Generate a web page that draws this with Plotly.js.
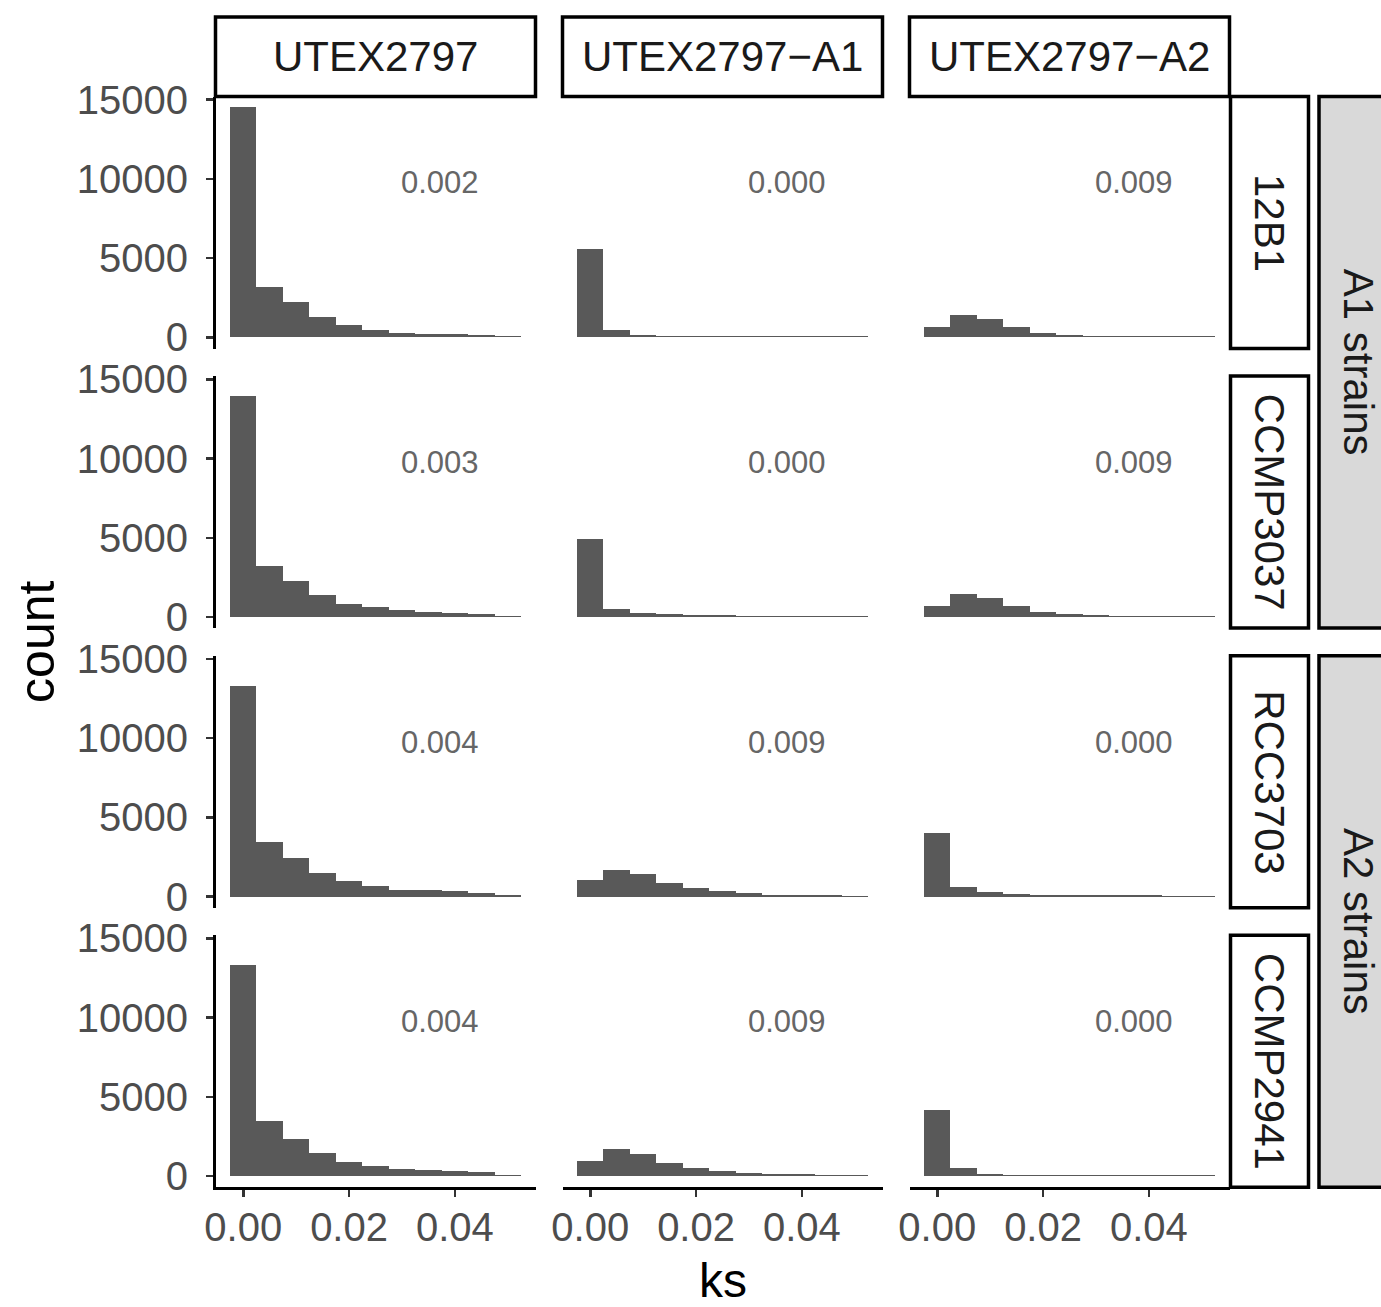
<!DOCTYPE html>
<html>
<head>
<meta charset="utf-8">
<script src="https://cdn.plot.ly/plotly-3.0.1.min.js"></script>
<style>
  html, body { margin: 0; padding: 0; background: #ffffff; }
  #chart { width: 1381px; height: 1307px; }
</style>
</head>
<body>
<div id="chart"></div>
<script>
// ---------- data ----------
const ksBins = [0, 0.005, 0.010, 0.015, 0.020, 0.025, 0.030, 0.035, 0.040, 0.045, 0.050];

const rowStrains = ['12B1', 'CCMP3037', 'RCC3703', 'CCMP2941'];
const colRefs = ['UTEX2797', 'UTEX2797\u2212A1', 'UTEX2797\u2212A2'];
const groupLabels = ['A1 strains', 'A2 strains'];

// counts per panel (row strain x column reference)
const count_12B1_UTEX2797    = [14550, 3200, 2260, 1300, 800, 490, 270, 210, 200, 150, 80];
const count_12B1_A1          = [5600, 480, 170, 120, 90, 80, 80, 75, 75, 70, 70];
const count_12B1_A2          = [660, 1420, 1160, 660, 275, 150, 90, 90, 90, 75, 75];

const count_CCMP3037_UTEX2797 = [13950, 3250, 2300, 1410, 845, 650, 420, 340, 250, 190, 80];
const count_CCMP3037_A1       = [4950, 530, 270, 190, 130, 100, 90, 85, 80, 75, 70];
const count_CCMP3037_A2       = [720, 1480, 1220, 720, 340, 210, 100, 85, 85, 75, 75];

const count_RCC3703_UTEX2797 = [13270, 3460, 2460, 1460, 960, 650, 420, 420, 330, 250, 85];
const count_RCC3703_A1       = [1040, 1710, 1400, 830, 520, 330, 210, 125, 125, 80, 70];
const count_RCC3703_A2       = [4020, 580, 270, 150, 90, 85, 80, 75, 75, 70, 70];

const count_CCMP2941_UTEX2797 = [13300, 3460, 2330, 1460, 900, 650, 460, 400, 330, 270, 85];
const count_CCMP2941_A1       = [980, 1710, 1400, 830, 520, 330, 210, 145, 145, 85, 70];
const count_CCMP2941_A2       = [4150, 520, 150, 100, 100, 80, 75, 75, 70, 70, 70];

const ksLabels = [
  ['0.002', '0.000', '0.009'],
  ['0.003', '0.000', '0.009'],
  ['0.004', '0.009', '0.000'],
  ['0.004', '0.009', '0.000']
];

const yTickVals = [0, 5000, 10000, 15000];
const yTickText = ['0', '5000', '10000', '15000'];
const xTickVals = [0, 0.02, 0.04];
const xTickText = ['0.00', '0.02', '0.04'];

const panelCounts = [
  [count_12B1_UTEX2797, count_12B1_A1, count_12B1_A2],
  [count_CCMP3037_UTEX2797, count_CCMP3037_A1, count_CCMP3037_A2],
  [count_RCC3703_UTEX2797, count_RCC3703_A1, count_RCC3703_A2],
  [count_CCMP2941_UTEX2797, count_CCMP2941_A1, count_CCMP2941_A2]
];

// ---------- layout geometry (pixels) ----------
const W = 1381, H = 1307;
const FONT = '"Liberation Sans", Arial, Helvetica, sans-serif';
const colX0 = [215.5, 562.5, 909.5];
const panelW = 320;
const rowY0 = [96.5, 376.1, 655.7, 935.3];
const panelH = 252;
const stripTop = [17, 96.5];
const rightStripX = [1230.5, 1308.5];
const outerStripX = [1319, 1398];

const px = v => v / W;
const py = v => 1 - v / H;

const data = [];
const layout = {
  width: W, height: H,
  margin: {l: 0, r: 0, t: 0, b: 0},
  paper_bgcolor: '#ffffff',
  plot_bgcolor: '#ffffff',
  showlegend: false,
  bargap: 0,
  font: {family: FONT, color: '#000000'},
  shapes: [],
  annotations: []
};

for (let r = 0; r < 4; r++) {
  for (let c = 0; c < 3; c++) {
    const i = r * 3 + c + 1;
    const xa = 'xaxis' + (i === 1 ? '' : i);
    const ya = 'yaxis' + (i === 1 ? '' : i);
    const xref = 'x' + (i === 1 ? '' : i);
    const yref = 'y' + (i === 1 ? '' : i);
    data.push({
      type: 'bar',
      x: ksBins,
      y: panelCounts[r][c],
      width: 0.005,
      xaxis: xref, yaxis: yref,
      marker: {color: '#595959', line: {width: 0}},
      hoverinfo: 'x+y'
    });
    const bottom = (r === 3), left = (c === 0);
    layout[xa] = {
      domain: [px(colX0[c]), px(colX0[c] + panelW)],
      anchor: yref,
      range: [-0.00525, 0.05525],
      showgrid: false, zeroline: false,
      showline: bottom, linecolor: '#000000', linewidth: 2.5,
      ticks: bottom ? 'outside' : '', ticklen: 7, tickwidth: 2.5, tickcolor: '#333333',
      showticklabels: bottom,
      ticklabelstandoff: -4,
      tickvals: xTickVals, ticktext: xTickText,
      tickfont: {family: FONT, size: 40, color: '#4d4d4d'},
      fixedrange: true
    };
    layout[ya] = {
      domain: [py(rowY0[r] + panelH), py(rowY0[r])],
      anchor: xref,
      range: [-700, 15200],
      showgrid: false, zeroline: false,
      showline: left, linecolor: '#000000', linewidth: 2.5,
      ticks: left ? 'outside' : '', ticklen: 7, tickwidth: 2.5, tickcolor: '#333333',
      showticklabels: left,
      ticklabelstandoff: 10,
      tickvals: yTickVals, ticktext: yTickText,
      tickfont: {family: FONT, size: 40, color: '#4d4d4d'},
      fixedrange: true
    };
    layout.annotations.push({
      xref: xref, yref: yref, x: 0.0372, y: 9750,
      text: ksLabels[r][c], showarrow: false,
      font: {family: FONT, size: 31, color: '#666666'},
      xanchor: 'center', yanchor: 'middle'
    });
  }
}

// top strips
for (let c = 0; c < 3; c++) {
  layout.shapes.push({
    type: 'rect', xref: 'paper', yref: 'paper',
    x0: px(colX0[c]), x1: px(colX0[c] + panelW),
    y0: py(stripTop[1]), y1: py(stripTop[0]),
    fillcolor: '#ffffff', line: {color: '#000000', width: 3.5}, layer: 'above'
  });
  layout.annotations.push({
    xref: 'paper', yref: 'paper',
    x: px(colX0[c] + panelW / 2), y: py((stripTop[0] + stripTop[1]) / 2),
    text: colRefs[c], showarrow: false,
    font: {family: FONT, size: 42, color: '#1a1a1a'},
    xanchor: 'center', yanchor: 'middle'
  });
}

// right strips
for (let r = 0; r < 4; r++) {
  layout.shapes.push({
    type: 'rect', xref: 'paper', yref: 'paper',
    x0: px(rightStripX[0]), x1: px(rightStripX[1]),
    y0: py(rowY0[r] + panelH), y1: py(rowY0[r]),
    fillcolor: '#ffffff', line: {color: '#000000', width: 3.5}, layer: 'above'
  });
  layout.annotations.push({
    xref: 'paper', yref: 'paper',
    x: px((rightStripX[0] + rightStripX[1]) / 2), y: py(rowY0[r] + panelH / 2),
    text: rowStrains[r], showarrow: false, textangle: 90,
    font: {family: FONT, size: 42, color: '#1a1a1a'},
    xanchor: 'center', yanchor: 'middle'
  });
}

// outer group strips
for (let g = 0; g < 2; g++) {
  const top = rowY0[g * 2], bot = rowY0[g * 2 + 1] + panelH;
  layout.shapes.push({
    type: 'rect', xref: 'paper', yref: 'paper',
    x0: px(outerStripX[0]), x1: px(outerStripX[1]),
    y0: py(bot), y1: py(top),
    fillcolor: '#d9d9d9', line: {color: '#000000', width: 3.5}, layer: 'above'
  });
  layout.annotations.push({
    xref: 'paper', yref: 'paper',
    x: px((outerStripX[0] + outerStripX[1]) / 2), y: py((top + bot) / 2),
    text: groupLabels[g], showarrow: false, textangle: 90,
    font: {family: FONT, size: 42, color: '#1a1a1a'},
    xanchor: 'center', yanchor: 'middle'
  });
}

// axis titles
layout.annotations.push({
  xref: 'paper', yref: 'paper', x: px(37), y: py((rowY0[0] + rowY0[3] + panelH) / 2),
  text: 'count', showarrow: false, textangle: -90,
  font: {family: FONT, size: 50, color: '#000000'},
  xanchor: 'center', yanchor: 'middle'
});
layout.annotations.push({
  xref: 'paper', yref: 'paper', x: px((colX0[0] + colX0[2] + panelW) / 2), y: py(1280),
  text: 'ks', showarrow: false,
  font: {family: FONT, size: 48, color: '#000000'},
  xanchor: 'center', yanchor: 'middle'
});

Plotly.newPlot('chart', data, layout, {displayModeBar: false, staticPlot: true});
</script>
</body>
</html>
